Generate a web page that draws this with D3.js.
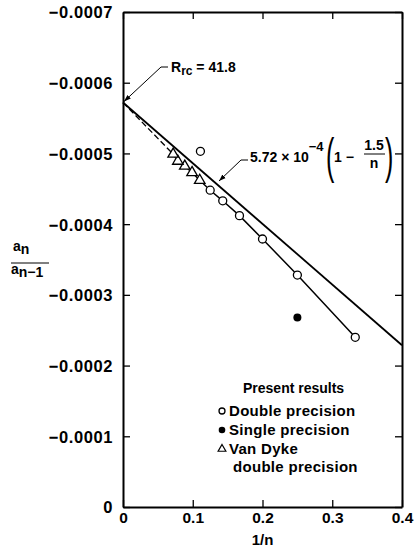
<!DOCTYPE html>
<html>
<head>
<meta charset="utf-8">
<script src="https://cdn.jsdelivr.net/npm/d3@7"></script>
<style>
  body { margin: 0; background: #fff; }
  svg text { font-family: "Liberation Sans", Arial, sans-serif; font-weight: bold; fill: #000; }
</style>
</head>
<body>
<div id="chart"></div>
<script>
// values
const xTicks = [0, 0.1, 0.2, 0.3, 0.4]
const yTicks = [0, -0.0001, -0.0002, -0.0003, -0.0004, -0.0005, -0.0006, -0.0007]

// present results, double precision (1/n, a_n / a_n-1)
const doubleX = [0.333, 0.25, 0.2, 0.167, 0.143, 0.125]
const doubleY = [-0.000240, -0.000328, -0.000379, -0.000412, -0.000433, -0.000448]
const outlierX = [0.111]
const outlierY = [-0.000503]

// present results, single precision
const singleX = [0.25]
const singleY = [-0.000268]

// Van Dyke double precision
const vanDykeX = [0.110, 0.099, 0.0886, 0.0786, 0.0719]
const vanDykeY = [-0.000462, -0.000473, -0.000482, -0.000489, -0.000499]

// 5.72e-4 (1 - 1.5/n) and the dashed extrapolation to 1/n = 0
const fitX = [0, 0.4]
const fitY = [-0.000572, -0.0002288]
const dashX = [0, 0.0719]
const dashY = [-0.000572, -0.000499]

const width = 415, height = 548
const margin = { left: 123, right: 13, top: 12, bottom: 41 }

const svg = d3.select("#chart").append("svg")
  .attr("width", width)
  .attr("height", height)

const x = d3.scaleLinear().domain([0, 0.4]).range([margin.left, width - margin.right])
const y = d3.scaleLinear().domain([0, -0.0007]).range([height - margin.bottom, margin.top])

const fmtY = d => d === 0 ? "0" : "\u2212" + Math.abs(d).toFixed(4)
const fmtX = d => d === 0 ? "0" : d.toFixed(1)

// axes, ticks pointing inward
const gl = svg.append("g").attr("transform", `translate(${margin.left},0)`)
  .call(d3.axisLeft(y).tickValues(yTicks).tickFormat(fmtY).tickSizeInner(-7).tickSizeOuter(0).tickPadding(10))
const gr = svg.append("g").attr("transform", `translate(${width - margin.right},0)`)
  .call(d3.axisRight(y).tickValues(yTicks).tickFormat("").tickSizeInner(-7).tickSizeOuter(0))
const gb = svg.append("g").attr("transform", `translate(0,${height - margin.bottom})`)
  .call(d3.axisBottom(x).tickValues(xTicks).tickFormat(fmtX).tickSizeInner(-7).tickSizeOuter(0).tickPadding(4))
const gt = svg.append("g").attr("transform", `translate(0,${margin.top})`)
  .call(d3.axisTop(x).tickValues(xTicks).tickFormat("").tickSizeInner(-7).tickSizeOuter(0))

;[gl, gr, gb, gt].forEach(g => {
  g.select(".domain").attr("stroke", "#000").attr("stroke-width", 2)
  g.selectAll(".tick line").attr("stroke", "#000").attr("stroke-width", 1.3)
  g.selectAll(".tick text").attr("font-family", null).attr("font-size", null)
})
gl.selectAll(".tick text").attr("dy", "0.36em").style("font-size", "16.5px").style("letter-spacing", "0.6px")
gb.selectAll(".tick text").attr("dy", "0.75em").style("font-size", "15.5px")

// axis titles
svg.append("text").attr("x", x(0.2)).attr("y", 545).attr("text-anchor", "middle")
  .style("font-size", "15px").text("1/n")

const yl = svg.append("g")
yl.append("text").attr("x", 13).attr("y", 251).style("font-size", "14px")
  .text("a").append("tspan").attr("dy", 3).text("n")
yl.append("line").attr("x1", 11).attr("x2", 49).attr("y1", 263).attr("y2", 263)
  .attr("stroke", "#000").attr("stroke-width", 1)
yl.append("text").attr("x", 11).attr("y", 274).style("font-size", "14px")
  .text("a").append("tspan").attr("dy", 3).text("n\u22121")

// lines
const line = d3.line().x(d => x(d[0])).y(d => y(d[1]))

svg.append("path")
  .attr("d", line(d3.zip(fitX, fitY)))
  .attr("fill", "none").attr("stroke", "#000").attr("stroke-width", 1.8)

svg.append("path")
  .attr("d", line(d3.zip(dashX, dashY)))
  .attr("fill", "none").attr("stroke", "#000").attr("stroke-width", 1.3)
  .attr("stroke-dasharray", "6,3")

svg.append("path")
  .attr("d", line(d3.zip(doubleX, doubleY).concat(d3.zip(vanDykeX, vanDykeY))))
  .attr("fill", "none").attr("stroke", "#000").attr("stroke-width", 1.5)

// markers
const tri = d3.symbol().type(d3.symbolTriangle).size(48)

svg.selectAll("path.vandyke")
  .data(d3.zip(vanDykeX, vanDykeY))
  .enter()
    .append("path")
    .attr("class", "vandyke")
    .attr("d", tri)
    .attr("transform", d => `translate(${x(d[0])},${y(d[1])})`)
    .attr("fill", "#fff").attr("stroke", "#000").attr("stroke-width", 1.3)

svg.selectAll("circle.double")
  .data(d3.zip(doubleX.concat(outlierX), doubleY.concat(outlierY)))
  .enter()
    .append("circle")
    .attr("class", "double")
    .attr("cx", d => x(d[0])).attr("cy", d => y(d[1])).attr("r", 4)
    .attr("fill", "#fff").attr("stroke", "#000").attr("stroke-width", 1.3)

svg.selectAll("circle.single")
  .data(d3.zip(singleX, singleY))
  .enter()
    .append("circle")
    .attr("class", "single")
    .attr("cx", d => x(d[0])).attr("cy", d => y(d[1])).attr("r", 4)
    .attr("fill", "#000")

// arrowhead
svg.append("defs").append("marker")
  .attr("id", "arrow").attr("viewBox", "0 0 10 10").attr("refX", 10).attr("refY", 5)
  .attr("markerWidth", 7).attr("markerHeight", 7).attr("orient", "auto")
  .append("path").attr("d", "M0,1.5L10,5L0,8.5Z").attr("fill", "#000")

// R_rc annotation
svg.append("path")
  .attr("d", `M168,67L161,67L${x(0) + 1},${y(-0.000572) - 1}`)
  .attr("fill", "none").attr("stroke", "#000").attr("stroke-width", 1)
  .attr("marker-end", "url(#arrow)")
const rt = svg.append("text").attr("x", 171).attr("y", 72).style("font-size", "14px")
rt.append("tspan").text("R")
rt.append("tspan").attr("dy", 3).style("font-size", "12px").text("rc")
rt.append("tspan").attr("dy", -3).text(" = 41.8")

// formula annotation
svg.append("path")
  .attr("d", `M248,160L241,160L219,181`)
  .attr("fill", "none").attr("stroke", "#000").attr("stroke-width", 1)
  .attr("marker-end", "url(#arrow)")
const ft = svg.append("text").attr("x", 250).attr("y", 162).style("font-size", "14px")
ft.append("tspan").text("5.72 \u00d7 10")
ft.append("tspan").attr("dy", -11).style("font-size", "13px").text("\u22124")
svg.append("text").attr("transform", "translate(326,173) scale(0.5,1)")
  .style("font-size", "50px").style("font-weight", "normal").text("(")
svg.append("text").attr("x", 334).attr("y", 162).style("font-size", "14px").text("1 \u2212")
svg.append("text").attr("x", 374).attr("y", 150).attr("text-anchor", "middle").style("font-size", "14px").text("1.5")
svg.append("line").attr("x1", 364).attr("x2", 385).attr("y1", 154).attr("y2", 154)
  .attr("stroke", "#000").attr("stroke-width", 1)
svg.append("text").attr("x", 374).attr("y", 168).attr("text-anchor", "middle").style("font-size", "14px").text("n")
svg.append("text").attr("transform", "translate(385,173) scale(0.5,1)")
  .style("font-size", "50px").style("font-weight", "normal").text(")")

// legend
const lg = svg.append("g")
lg.append("text").attr("x", 243).attr("y", 393).style("font-size", "14px").text("Present results")
const rows = [
  { y: 411, label: "Double precision" },
  { y: 430, label: "Single precision" },
  { y: 449, label: "Van Dyke" },
  { y: 467, label: "double precision", indent: true }
]
lg.selectAll("text.row")
  .data(rows)
  .enter()
    .append("text")
    .attr("class", "row")
    .attr("x", d => d.indent ? 233 : 229)
    .attr("y", d => d.y + 5)
    .style("font-size", "15px")
    .style("letter-spacing", "0.3px")
    .text(d => d.label)
lg.append("circle").attr("cx", 222).attr("cy", 411).attr("r", 3)
  .attr("fill", "#fff").attr("stroke", "#000").attr("stroke-width", 1.3)
lg.append("circle").attr("cx", 222).attr("cy", 430).attr("r", 3.3).attr("fill", "#000")
lg.append("path").attr("d", d3.symbol().type(d3.symbolTriangle).size(26))
  .attr("transform", "translate(222,449)")
  .attr("fill", "#fff").attr("stroke", "#000").attr("stroke-width", 1.2)
</script>
</body>
</html>
